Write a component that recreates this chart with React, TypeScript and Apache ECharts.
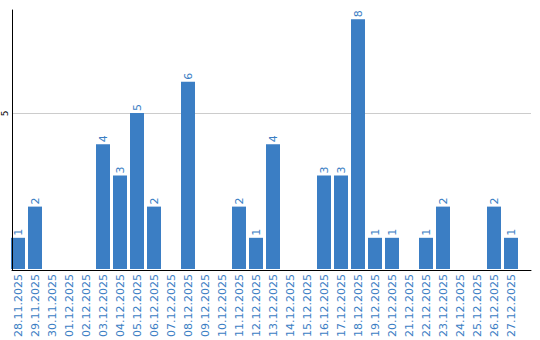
import React, { useEffect, useRef } from "react";
import * as echarts from "echarts";

const categories = [
  "28.11.2025", "29.11.2025", "30.11.2025", "01.12.2025", "02.12.2025",
  "03.12.2025", "04.12.2025", "05.12.2025", "06.12.2025", "07.12.2025",
  "08.12.2025", "09.12.2025", "10.12.2025", "11.12.2025", "12.12.2025",
  "13.12.2025", "14.12.2025", "15.12.2025", "16.12.2025", "17.12.2025",
  "18.12.2025", "19.12.2025", "20.12.2025", "21.12.2025", "22.12.2025",
  "23.12.2025", "24.12.2025", "25.12.2025", "26.12.2025", "27.12.2025",
];
const values = [
  1, 2, 0, 0, 0,
  4, 3, 5, 2, 0,
  6, 0, 0, 2, 1,
  4, 0, 0, 3, 3,
  8, 1, 1, 0, 1,
  2, 0, 0, 2, 1,
];
const yMax = 8.3;
const yTick = 5;

const BLUE = "#3b7ec4";
const FONT = "DejaVu Sans";

export default function App() {
  const ref = useRef<HTMLDivElement>(null);
  useEffect(() => {
    if (!ref.current) return;
    const chart = echarts.init(ref.current, null, { renderer: "svg" });
    chart.setOption({
      animation: false,
      grid: [
        { left: 9.5, right: 20.5, top: 10, bottom: 70, containLabel: false },
        { left: 10, right: 9, top: 10, bottom: 70, containLabel: false },
      ],
      xAxis: [
        {
          gridIndex: 0,
          type: "category",
          data: categories,
          axisLine: { show: false },
          axisTick: { show: false },
          axisLabel: {
            interval: 0,
            rotate: 90,
            color: BLUE,
            fontFamily: FONT,
            fontSize: 11,
            margin: 5,
          },
        },
        {
          gridIndex: 1,
          type: "category",
          data: categories,
          axisLine: { show: true, lineStyle: { color: "#000", width: 1 } },
          axisTick: { show: false },
          axisLabel: { show: false },
          z: 5,
        },
      ],
      yAxis: [
        {
          gridIndex: 0,
          type: "value",
          min: 0,
          max: yMax,
          axisLine: { show: false },
          axisTick: { show: false },
          splitLine: { show: false },
          axisLabel: { show: false },
        },
        {
          gridIndex: 1,
          type: "value",
          min: 0,
          max: yMax,
          interval: yTick,
          axisLine: { show: true, lineStyle: { color: "#000", width: 1 } },
          axisTick: { show: false },
          splitLine: { show: false },
          z: 5,
          axisLabel: {
            rotate: 90,
            color: "#000",
            fontFamily: FONT,
            fontSize: 9,
            margin: 3,
            showMaxLabel: false,
            formatter: (v: number) => (v === yTick ? String(v) : ""),
          },
        },
      ],
      series: [
        {
          type: "line",
          xAxisIndex: 1,
          yAxisIndex: 1,
          data: [],
          silent: true,
          z: 0,
          zlevel: 0,
          markLine: {
            silent: true,
            z: 0,
            symbol: ["none", "none"],
            label: { show: false },
            lineStyle: { color: "#cccccc", width: 1, type: "solid" },
            data: [{ yAxis: yTick }],
          },
        },
        {
          type: "bar",
          xAxisIndex: 0,
          yAxisIndex: 0,
          data: values,
          barWidth: 14,
          z: 3,
          itemStyle: { color: BLUE },
          label: {
            show: true,
            position: "top",
            rotate: 90,
            align: "left",
            verticalAlign: "middle",
            distance: 2,
            color: BLUE,
            fontFamily: FONT,
            fontSize: 11,
            formatter: (p: any) => (p.value === 0 ? "" : String(p.value)),
          },
        },
      ],
    });
    return () => chart.dispose();
  }, []);
  return <div ref={ref} style={{ width: 540, height: 340, position: "absolute", left: 0, top: 0 }} />;
}
